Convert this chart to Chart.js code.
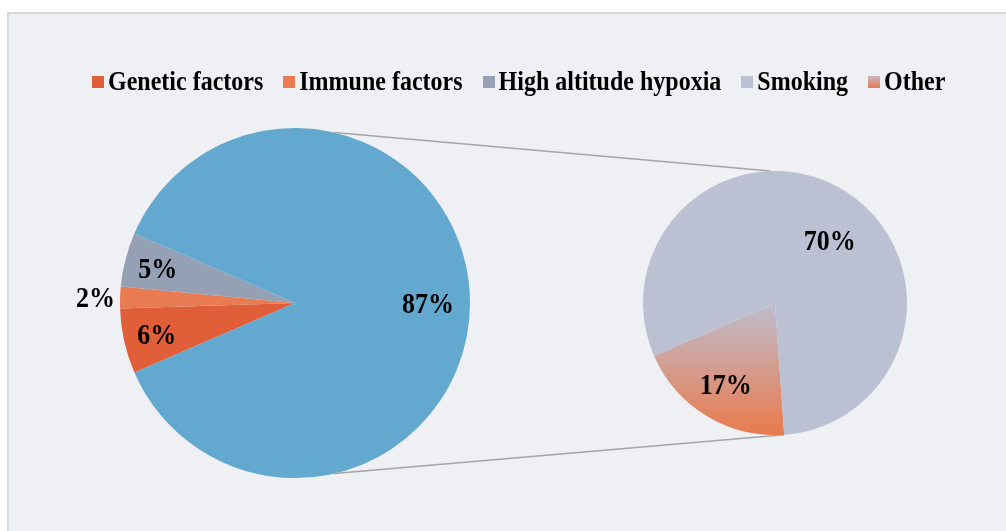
<!DOCTYPE html>
<html>
<head>
<meta charset="utf-8">
<script src="https://cdn.jsdelivr.net/npm/chart.js@4.4.0/dist/chart.umd.min.js"></script>
<style>
    body { margin: 0; background: #ffffff; width: 1006px; height: 531px; overflow: hidden; position: relative; }
    #frame { position: absolute; left: 7px; top: 12px; width: 1010px; height: 530px; background: #EFF0F4; border: 2px solid #D9D9D9; }
    #mainChart { position: absolute; left: 8px; top: 13px; }
    #subChart { position: absolute; left: 643px; top: 171px; }
    #legend { position: absolute; left: 92px; top: 68px; white-space: nowrap; font: bold 24px "Liberation Serif", "Times New Roman", serif; color: #000; display: flex; align-items: center; }
    .item { display: flex; align-items: center; margin-right: 20px; }
    .box { width: 12px; height: 12px; margin-right: 4px; display: inline-block; }
    .txt { display: inline-block; transform: scaleY(1.12); }
</style>
</head>
<body>
<div id="frame"></div>
<canvas id="mainChart" width="998" height="518"></canvas>
<canvas id="subChart" width="264" height="264"></canvas>
<div id="legend"></div>
<script>
const legendLabels = ['Genetic factors', 'Immune factors', 'High altitude hypoxia', 'Smoking', 'Other'];
const legendColors = ['#E05E38', '#E97B53', '#95A0B4', '#BBC0D2', 'linear-gradient(#C9B6C3, #E97B50)'];

const mainLabels = ['Genetic factors', 'Immune factors', 'High altitude hypoxia', 'Smoking + Other'];
const mainValues = [6, 2, 5, 87];
const mainColors = ['#E05E38', '#E97B53', '#95A0B4', '#62A8CF'];

const subLabels = ['Other', 'Smoking'];
const subValues = [17, 70];

// where each percentage sits: share of the radius, and a turn in degrees
const mainLabelRadius = [0.81, 1.14, 0.81, 0.76];
const mainLabelTurn = [0, 0, 0, 0];
const subLabelRadius = [0.72, 0.63];
const subLabelTurn = [0, 10];

const pctLabels = {
    id: 'pctLabels',
    afterDatasetsDraw(chart, args, opts) {
        const ctx = chart.ctx;
        const meta = chart.getDatasetMeta(0);
        const size = 26, stretch = 1.12;
        ctx.save();
        ctx.font = 'bold ' + size + 'px "Liberation Serif", "Times New Roman", serif';
        ctx.fillStyle = '#000';
        ctx.textAlign = 'center';
        ctx.textBaseline = 'alphabetic';
        meta.data.forEach((arc, i) => {
            const p = arc.getProps(['x', 'y', 'startAngle', 'endAngle', 'outerRadius'], true);
            const mid = (p.startAngle + p.endAngle) / 2 + opts.turn[i] * Math.PI / 180;
            const r = p.outerRadius * opts.radius[i];
            ctx.save();
            ctx.translate(p.x + Math.cos(mid) * r, p.y + Math.sin(mid) * r);
            ctx.scale(1, stretch);
            ctx.fillText(chart.data.datasets[0].data[i] + '%', 0, size * 0.34);
            ctx.restore();
        });
        ctx.restore();
    }
};

function getSubColor(context) {
    if (context.dataIndex === 1) return '#BBC0D2';
    const area = context.chart.chartArea;
    if (!area) return '#E97B53';
    const g = context.chart.ctx.createLinearGradient(0, (area.top + area.bottom) / 2, 0, area.bottom);
    g.addColorStop(0, '#BEBDCF');
    g.addColorStop(1, '#E97A4C');
    return g;
}

const subChart = new Chart(document.getElementById('subChart'), {
    type: 'pie',
    data: {
        labels: subLabels,
        datasets: [{ data: subValues, backgroundColor: getSubColor, borderWidth: 0 }]
    },
    options: {
        responsive: false,
        animation: false,
        rotation: 176,
        layout: { padding: 0 },
        plugins: {
            legend: { display: false },
            tooltip: { enabled: false },
            pctLabels: { radius: subLabelRadius, turn: subLabelTurn }
        }
    },
    plugins: [pctLabels]
});

// grey lines joining the two pies
const connectors = {
    id: 'connectors',
    afterDatasetsDraw(chart) {
        const a = chart.getDatasetMeta(0).data[0];
        const b = subChart.getDatasetMeta(0).data[0];
        if (!a || !b) return;
        const r1 = chart.canvas.getBoundingClientRect();
        const r2 = subChart.canvas.getBoundingClientRect();
        const dx = r2.left - r1.left, dy = r2.top - r1.top;
        const deg = Math.PI / 180;
        const pairs = [[13, -2], [167, 176]];
        const ctx = chart.ctx;
        ctx.save();
        ctx.strokeStyle = '#A5A5A5';
        ctx.lineWidth = 1.5;
        pairs.forEach(([angA, angB]) => {
            const t1 = (angA - 90) * deg, t2 = (angB - 90) * deg;
            ctx.beginPath();
            ctx.moveTo(a.x + Math.cos(t1) * a.outerRadius, a.y + Math.sin(t1) * a.outerRadius);
            ctx.lineTo(b.x + dx + Math.cos(t2) * b.outerRadius, b.y + dy + Math.sin(t2) * b.outerRadius);
            ctx.stroke();
        });
        ctx.restore();
    }
};

const mainChart = new Chart(document.getElementById('mainChart'), {
    type: 'pie',
    data: {
        labels: mainLabels,
        datasets: [{ data: mainValues, backgroundColor: mainColors, borderWidth: 0 }]
    },
    options: {
        responsive: false,
        animation: false,
        rotation: 246.6,
        layout: { padding: { left: 112, right: 536, top: 115, bottom: 53 } },
        plugins: {
            legend: { display: false },
            tooltip: { enabled: false },
            pctLabels: { radius: mainLabelRadius, turn: mainLabelTurn }
        }
    },
    plugins: [pctLabels, connectors]
});

// legend
const legendDiv = document.getElementById('legend');
legendLabels.forEach((text, i) => {
    const item = document.createElement('span');
    item.className = 'item';
    const box = document.createElement('span');
    box.className = 'box';
    box.style.background = legendColors[i];
    const txt = document.createElement('span');
    txt.className = 'txt';
    txt.textContent = text;
    item.appendChild(box);
    item.appendChild(txt);
    legendDiv.appendChild(item);
});
</script>
</body>
</html>
